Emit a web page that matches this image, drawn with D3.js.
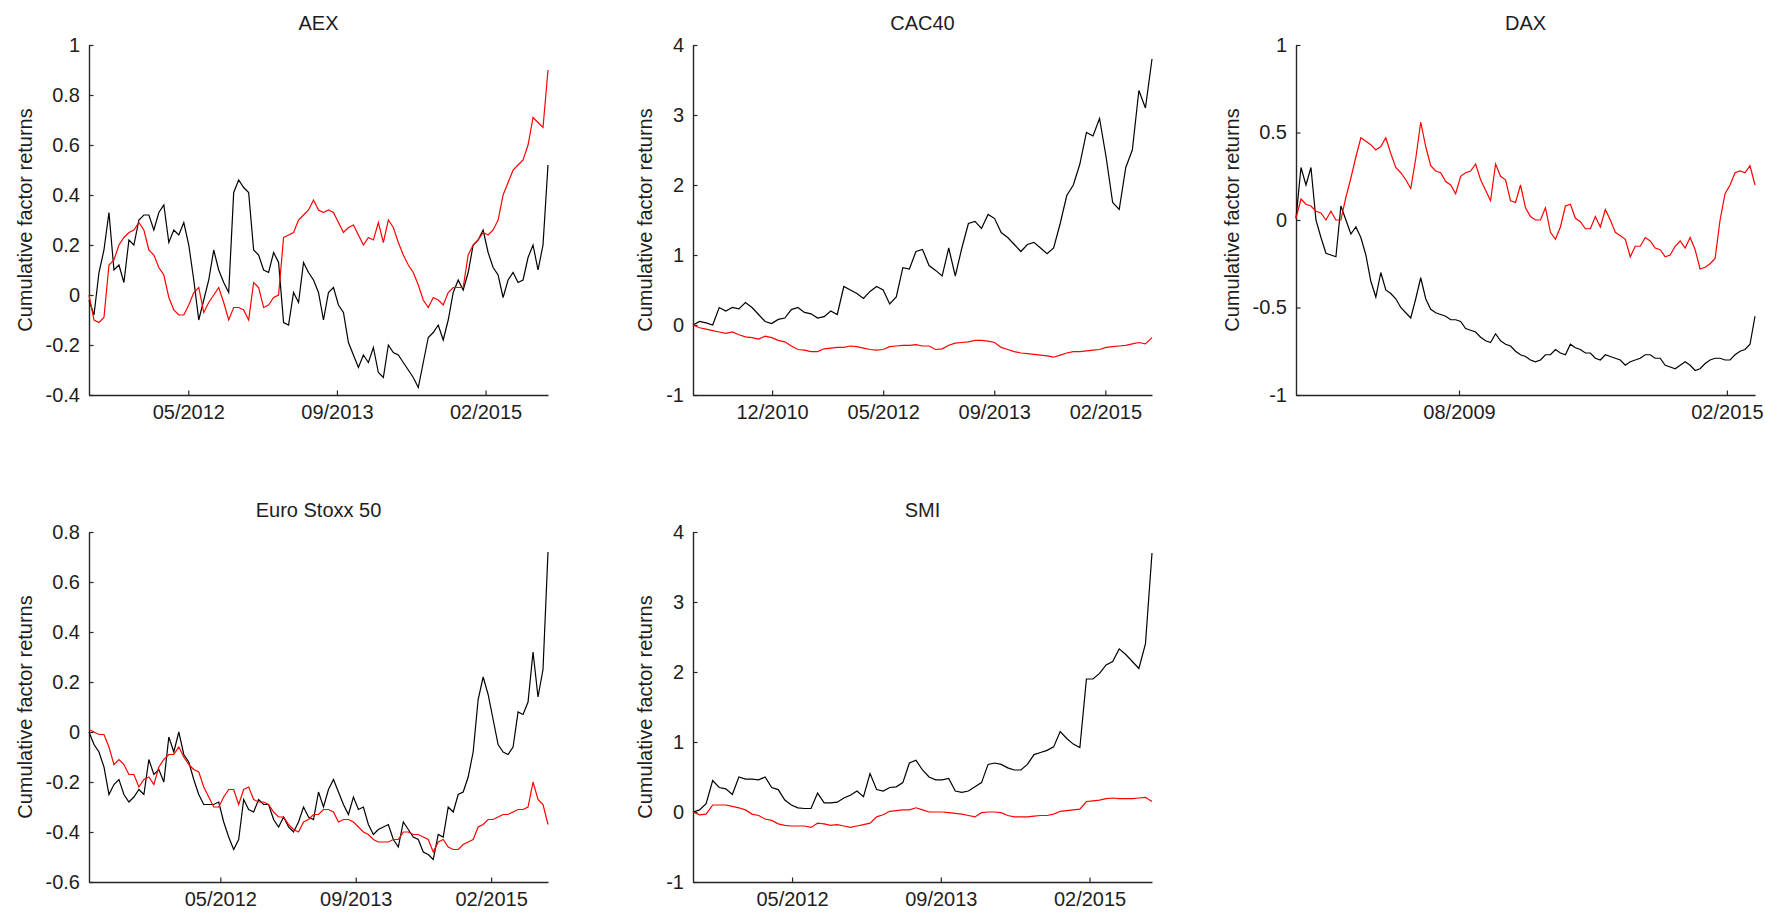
<!DOCTYPE html>
<html>
<head>
<meta charset="utf-8">
<script src="https://cdn.jsdelivr.net/npm/d3@7/dist/d3.min.js"></script>
<style>
  html, body { margin: 0; padding: 0; background: #fff; overflow: hidden; }
  text { font-family: "Liberation Sans", Arial, sans-serif; fill: #1e1e1e; }
</style>
</head>
<body>
<div id="chart_area"></div>
<script>
// Panel titles, date windows and tick labels
var titles = ["AEX", "CAC40", "DAX", "Euro Stoxx 50", "SMI"];
var startDates = ["2011-06-12", "2010-01-06", "2006-04-16", "2011-01-12", "2011-06-13"];
var endDate = "2015-09-03";
var xTickDates = [
  ["2012-05-11", "2013-09-23", "2015-02-05"],
  ["2010-12-28", "2012-05-11", "2013-09-23", "2015-02-05"],
  ["2009-08-15", "2015-02-05"],
  ["2012-05-11", "2013-09-23", "2015-02-05"],
  ["2012-05-11", "2013-09-23", "2015-02-05"]
];
var xTickLabels = [
  ["05/2012", "09/2013", "02/2015"],
  ["12/2010", "05/2012", "09/2013", "02/2015"],
  ["08/2009", "02/2015"],
  ["05/2012", "09/2013", "02/2015"],
  ["05/2012", "09/2013", "02/2015"]
];
var yTicks = [
  [-0.4, -0.2, 0, 0.2, 0.4, 0.6, 0.8, 1],
  [-1, 0, 1, 2, 3, 4],
  [-1, -0.5, 0, 0.5, 1],
  [-0.6, -0.4, -0.2, 0, 0.2, 0.4, 0.6, 0.8],
  [-1, 0, 1, 2, 3, 4]
];

// Cumulative factor returns, sampled evenly over each panel's window
var aexBlack = [-0.02, -0.08, 0.09, 0.18, 0.33, 0.1, 0.12, 0.05, 0.22, 0.2,
  0.3, 0.32, 0.32, 0.26, 0.33, 0.36, 0.21, 0.26, 0.24, 0.29,
  0.2, 0.06, -0.1, -0.02, 0.06, 0.18, 0.1, 0.05, 0.01, 0.41,
  0.46, 0.43, 0.41, 0.18, 0.16, 0.1, 0.09, 0.17, 0.13, -0.11,
  -0.12, 0.01, -0.03, 0.13, 0.09, 0.06, 0.01, -0.1, 0.01, 0.03,
  -0.04, -0.07, -0.19, -0.24, -0.29, -0.24, -0.27, -0.21, -0.31, -0.33,
  -0.2, -0.23, -0.24, -0.27, -0.3, -0.33, -0.37, -0.27, -0.17, -0.15,
  -0.12, -0.18, -0.1, 0.01, 0.06, 0.02, 0.09, 0.2, 0.22, 0.26,
  0.17, 0.11, 0.08, -0.01, 0.06, 0.09, 0.05, 0.06, 0.15, 0.2,
  0.1, 0.2, 0.52];
var aexRed = [0.0, -0.1, -0.11, -0.09, 0.12, 0.14, 0.2, 0.23, 0.25, 0.26,
  0.29, 0.26, 0.18, 0.16, 0.11, 0.08, -0.01, -0.06, -0.08, -0.08,
  -0.04, 0.01, 0.03, -0.07, -0.03, 0.0, 0.03, -0.03, -0.1, -0.05,
  -0.05, -0.06, -0.1, 0.05, 0.03, -0.05, -0.04, -0.01, 0.0, 0.23,
  0.24, 0.25, 0.3, 0.32, 0.34, 0.38, 0.34, 0.33, 0.34, 0.33,
  0.29, 0.25, 0.27, 0.28, 0.24, 0.2, 0.23, 0.22, 0.29, 0.21,
  0.3, 0.27, 0.21, 0.16, 0.12, 0.09, 0.04, -0.02, -0.05, -0.01,
  -0.02, -0.04, 0.01, 0.03, 0.03, 0.03, 0.16, 0.2, 0.22, 0.25,
  0.24, 0.26, 0.3, 0.4, 0.45, 0.5, 0.52, 0.54, 0.6, 0.71,
  0.69, 0.67, 0.9];

var cacBlack = [0.0, 0.05, 0.03, 0.0, 0.25, 0.2, 0.25, 0.23, 0.32, 0.25,
  0.15, 0.05, 0.02, 0.08, 0.1, 0.22, 0.25, 0.18, 0.16, 0.1,
  0.12, 0.2, 0.15, 0.55, 0.5, 0.45, 0.38, 0.48, 0.55, 0.5,
  0.3, 0.4, 0.82, 0.8, 1.05, 1.08, 0.85, 0.78, 0.7, 1.1,
  0.7, 1.1, 1.45, 1.48, 1.38, 1.58, 1.52, 1.32, 1.25, 1.15,
  1.05, 1.15, 1.18, 1.1, 1.02, 1.1, 1.45, 1.85, 2.0, 2.3,
  2.75, 2.7, 2.95, 2.4, 1.75, 1.65, 2.25, 2.5, 3.35, 3.1,
  3.8];
var cacRed = [0.0, -0.04, -0.06, -0.08, -0.1, -0.12, -0.1, -0.14, -0.17, -0.18,
  -0.2, -0.16, -0.18, -0.22, -0.24, -0.3, -0.35, -0.36, -0.38, -0.38,
  -0.34, -0.33, -0.32, -0.32, -0.3, -0.31, -0.33, -0.35, -0.36, -0.35,
  -0.31, -0.3, -0.29, -0.29, -0.28, -0.3, -0.3, -0.35, -0.34, -0.29,
  -0.26, -0.25, -0.24, -0.22, -0.22, -0.23, -0.25, -0.32, -0.35, -0.38,
  -0.4, -0.41, -0.42, -0.43, -0.44, -0.46, -0.43, -0.4, -0.38, -0.38,
  -0.37, -0.36, -0.35, -0.32, -0.31, -0.3, -0.29, -0.27, -0.25, -0.27,
  -0.18];

var daxBlack = [0.01, 0.3, 0.2, 0.3, 0.0, -0.1, -0.19, -0.2, -0.21, 0.08,
  0.0, -0.08, -0.04, -0.1, -0.2, -0.35, -0.44, -0.3, -0.4, -0.42,
  -0.45, -0.5, -0.53, -0.56, -0.45, -0.33, -0.45, -0.51, -0.53, -0.54,
  -0.55, -0.57, -0.57, -0.58, -0.62, -0.63, -0.64, -0.67, -0.69, -0.7,
  -0.65, -0.69, -0.71, -0.72, -0.75, -0.77, -0.78, -0.8, -0.81, -0.8,
  -0.77, -0.77, -0.74, -0.76, -0.77, -0.71, -0.73, -0.74, -0.76, -0.76,
  -0.79, -0.8, -0.77, -0.78, -0.79, -0.8, -0.83, -0.81, -0.8, -0.79,
  -0.77, -0.77, -0.79, -0.79, -0.83, -0.84, -0.85, -0.83, -0.81, -0.83,
  -0.86, -0.85, -0.82, -0.8, -0.79, -0.79, -0.8, -0.8, -0.77, -0.75,
  -0.74, -0.71, -0.55];
var daxRed = [0.01, 0.12, 0.09, 0.08, 0.05, 0.04, 0.0, 0.05, 0.0, 0.0,
  0.13, 0.24, 0.36, 0.47, 0.45, 0.43, 0.4, 0.42, 0.47, 0.38,
  0.3, 0.27, 0.23, 0.18, 0.35, 0.56, 0.42, 0.31, 0.28, 0.27,
  0.22, 0.2, 0.15, 0.25, 0.27, 0.28, 0.32, 0.23, 0.17, 0.11,
  0.32, 0.25, 0.23, 0.11, 0.1, 0.2, 0.07, 0.02, 0.0, 0.0,
  0.07, -0.07, -0.11, -0.04, 0.08, 0.09, 0.01, -0.01, -0.05, -0.05,
  0.02, -0.04, 0.06, 0.0, -0.07, -0.09, -0.11, -0.21, -0.15, -0.15,
  -0.1, -0.12, -0.16, -0.17, -0.21, -0.2, -0.15, -0.12, -0.16, -0.1,
  -0.17, -0.28, -0.27, -0.25, -0.22, 0.0, 0.15, 0.2, 0.27, 0.28,
  0.27, 0.31, 0.2];

var stoxxBlack = [0.0, -0.05, -0.08, -0.14, -0.25, -0.21, -0.19, -0.25, -0.28, -0.26,
  -0.23, -0.25, -0.11, -0.17, -0.15, -0.2, -0.02, -0.08, 0.0, -0.09,
  -0.12, -0.19, -0.25, -0.29, -0.29, -0.29, -0.28, -0.36, -0.42, -0.47,
  -0.43, -0.27, -0.31, -0.32, -0.27, -0.29, -0.29, -0.35, -0.38, -0.34,
  -0.38, -0.4, -0.36, -0.3, -0.34, -0.35, -0.24, -0.3, -0.23, -0.19,
  -0.24, -0.29, -0.33, -0.26, -0.31, -0.3, -0.37, -0.41, -0.39, -0.38,
  -0.37, -0.43, -0.46, -0.36, -0.39, -0.42, -0.43, -0.48, -0.49, -0.51,
  -0.41, -0.42, -0.3, -0.32, -0.25, -0.24, -0.18, -0.08, 0.13, 0.22,
  0.15, 0.05, -0.05, -0.08, -0.09, -0.06, 0.08, 0.07, 0.12, 0.32,
  0.14, 0.25, 0.72];
var stoxxRed = [0.01, 0.0, -0.01, -0.01, -0.06, -0.13, -0.11, -0.13, -0.17, -0.17,
  -0.22, -0.19, -0.18, -0.21, -0.14, -0.11, -0.09, -0.09, -0.06, -0.1,
  -0.13, -0.15, -0.16, -0.22, -0.26, -0.3, -0.3, -0.26, -0.23, -0.23,
  -0.29, -0.23, -0.22, -0.27, -0.28, -0.28, -0.29, -0.32, -0.34, -0.34,
  -0.37, -0.39, -0.4, -0.36, -0.35, -0.33, -0.33, -0.31, -0.31, -0.32,
  -0.36, -0.35, -0.35, -0.36, -0.38, -0.4, -0.41, -0.43, -0.44, -0.44,
  -0.44, -0.43, -0.43, -0.4, -0.4, -0.41, -0.41, -0.42, -0.43, -0.48,
  -0.44, -0.43, -0.46, -0.47, -0.47, -0.45, -0.44, -0.43, -0.38, -0.37,
  -0.35, -0.35, -0.34, -0.33, -0.33, -0.32, -0.31, -0.31, -0.3, -0.2,
  -0.27, -0.29, -0.37];

var smiBlack = [0.0, 0.03, 0.12, 0.45, 0.35, 0.33, 0.25, 0.5, 0.47, 0.47,
  0.46, 0.5, 0.35, 0.32, 0.17, 0.1, 0.06, 0.05, 0.05, 0.27,
  0.13, 0.13, 0.14, 0.2, 0.24, 0.3, 0.22, 0.55, 0.32, 0.3,
  0.35, 0.36, 0.42, 0.7, 0.74, 0.6, 0.5, 0.46, 0.46, 0.48,
  0.3, 0.28, 0.3, 0.36, 0.42, 0.68, 0.7, 0.68, 0.63, 0.6,
  0.6, 0.68, 0.82, 0.85, 0.88, 0.93, 1.15, 1.05, 0.97, 0.92,
  1.9, 1.9, 1.98, 2.1, 2.15, 2.33, 2.25, 2.15, 2.05, 2.4,
  3.7];
var smiRed = [0.0, -0.04, -0.03, 0.1, 0.1, 0.1, 0.08, 0.06, 0.03, -0.03,
  -0.05, -0.1, -0.12, -0.17, -0.19, -0.2, -0.2, -0.2, -0.22, -0.16,
  -0.17, -0.19, -0.18, -0.2, -0.22, -0.2, -0.18, -0.16, -0.07, -0.04,
  0.01, 0.02, 0.03, 0.03, 0.06, 0.03, 0.0, 0.0, 0.0, -0.01,
  -0.02, -0.03, -0.05, -0.07, -0.01, 0.0, 0.0, -0.01, -0.05, -0.07,
  -0.07, -0.07, -0.06, -0.05, -0.05, -0.03, 0.01, 0.02, 0.03, 0.04,
  0.15, 0.16, 0.17, 0.19, 0.2, 0.19, 0.19, 0.19, 0.2, 0.21,
  0.15];

var blackSeries = [aexBlack, cacBlack, daxBlack, stoxxBlack, smiBlack];
var redSeries = [aexRed, cacRed, daxRed, stoxxRed, smiRed];

// Frame and panel grid
var frame_width = 1765, frame_height = 912;
var colLeft = [89, 693, 1296];
var rowTop = [45, 532];
var plot_w = 459, plot_h = 350;
var parseDate = d3.timeParse("%Y-%m-%d");

var frame = d3.select("#chart_area").append("svg")
    .attr("width", frame_width)
    .attr("height", frame_height)
    .style("display", "block");
frame.append("rect").attr("width", frame_width).attr("height", frame_height).attr("fill", "#fff");

titles.forEach(function(title, k) {
  var canvas = frame.append("g")
      .attr("transform", "translate(" + colLeft[k % 3] + "," + rowTop[Math.floor(k / 3)] + ")");

  var t0 = parseDate(startDates[k]), t1 = parseDate(endDate);
  var xScale = d3.scaleTime().domain([t0, t1]).range([0, plot_w]);
  var yScale = d3.scaleLinear().domain(d3.extent(yTicks[k])).range([plot_h, 0]);

  // x axis, ticks pointing inward
  var xAxis = d3.axisBottom(xScale)
      .tickValues(xTickDates[k].map(parseDate))
      .tickFormat(function(d, i) { return xTickLabels[k][i]; })
      .tickSizeInner(-4.5).tickSizeOuter(0).tickPadding(10);
  var gx = canvas.append("g")
      .attr("transform", "translate(0," + plot_h + ")")
      .call(xAxis);

  // y axis
  var yAxis = d3.axisLeft(yScale)
      .tickValues(yTicks[k])
      .tickFormat(function(d) { return String(d); })
      .tickSizeInner(-4.5).tickSizeOuter(0).tickPadding(9);
  var gy = canvas.append("g").call(yAxis);

  [gx, gy].forEach(function(g) {
    g.selectAll("path.domain").attr("stroke", "#262626").attr("stroke-width", 1.4);
    g.selectAll(".tick line").attr("stroke", "#262626").attr("stroke-width", 1.2);
    g.selectAll("text").attr("font-size", 20).attr("fill", "#1e1e1e")
        .attr("font-family", "Liberation Sans, Arial, sans-serif");
  });

  // y label sits left of the widest tick label
  var labelLeft = d3.min(gy.selectAll(".tick text").nodes(), function(n) { return n.getBBox().x; });
  canvas.append("text")
      .attr("transform", "translate(" + (labelLeft - 14) + "," + (plot_h / 2) + ") rotate(-90)")
      .attr("text-anchor", "middle")
      .attr("font-size", 20)
      .text("Cumulative factor returns");

  canvas.append("text")
      .attr("x", plot_w / 2)
      .attr("y", -15)
      .attr("text-anchor", "middle")
      .attr("font-size", 20)
      .text(title);

  // lines: each series is spread evenly in time over the panel window
  function drawSeries(values, colour) {
    var tIndex = d3.scaleLinear().domain([0, values.length - 1]).range([t0.getTime(), t1.getTime()]);
    var line = d3.line()
        .x(function(d, i) { return xScale(new Date(tIndex(i))); })
        .y(function(d) { return yScale(d); });
    canvas.append("path")
        .datum(values)
        .attr("fill", "none")
        .attr("stroke", colour)
        .attr("stroke-width", 1.2)
        .attr("stroke-linejoin", "miter")
        .attr("d", line);
  }
  drawSeries(blackSeries[k], "#000");
  drawSeries(redSeries[k], "#ff0000");
});
</script>
</body>
</html>
